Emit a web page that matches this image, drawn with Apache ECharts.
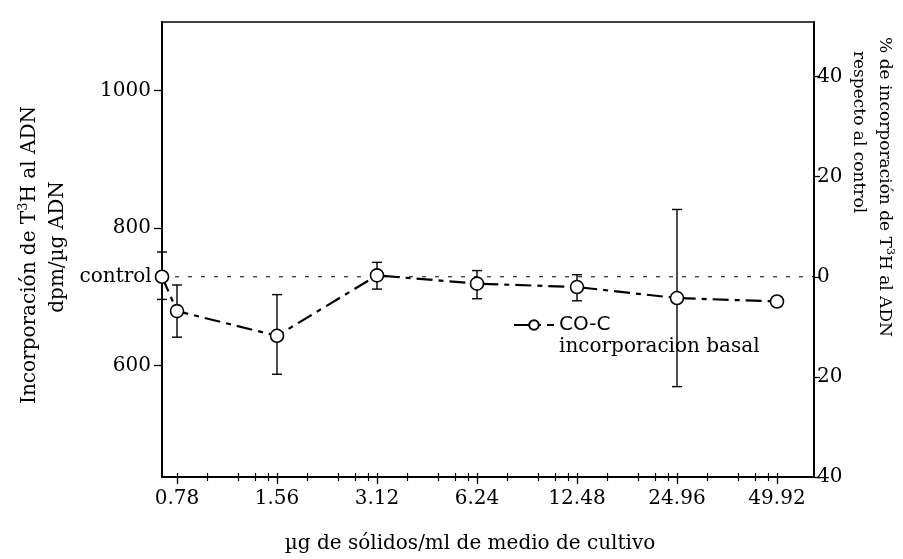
<!DOCTYPE html>
<html>
<head>
<meta charset="utf-8">
<script src="https://cdn.jsdelivr.net/npm/echarts@6/dist/echarts.min.js"></script>
<style>html,body{margin:0;padding:0;background:#fff}#c{width:903px;height:559px}</style>
</head>
<body>
<div id="c"></div>
<script>
// ---- data ----
const xLabels = ['0.78', '1.56', '3.12', '6.24', '12.48', '24.96', '49.92'];
const means   = [679, 643, 731, 719, 714, 698, 693];
const errLow  = [641, 587, 711, 697, 694, 569, 688];
const errHigh = [717, 703, 750, 738, 732, 827, 698];
const controlValue = 729;
const controlLow = 696;
const controlHigh = 765;
const leftTicks = [600, 800, 1000];
const rightTicks = [-40, -20, 0, 20, 40];
const minorFractions = [0.3, 0.61, 0.78, 0.91];

// ---- axis extents ----
const xMin = -0.15, xMax = 6.37;
const rMin = -40;
const yMin = controlValue * (1 + rMin / 100);
const yMax = 1100;
const rMax = (yMax - controlValue) / controlValue * 100;

const majorIdx = xLabels.map((_, i) => i);
const minorIdx = [];
for (let i = 0; i < xLabels.length - 1; i++) minorFractions.forEach(f => minorIdx.push(i + f));

const FONT = 'DejaVu Serif';

const lineData = [{value: [xMin, controlValue], label: {show: true, position: 'left', distance: 3, formatter: 'control', fontFamily: FONT, fontSize: 20, color: '#000'}}]
  .concat(means.map((m, i) => [i, m]));
const errData = [[xMin, controlLow, controlHigh]].concat(means.map((m, i) => [i, errLow[i], errHigh[i]]));

const chart = echarts.init(document.getElementById('c'), null, {renderer: 'canvas'});
const tickAxisBase = {
  type: 'value', min: xMin, max: xMax, position: 'bottom', gridIndex: 0,
  axisLine: {show: false, onZero: false}, axisLabel: {show: false}, splitLine: {show: false}
};
chart.setOption({
  animation: false,
  backgroundColor: '#fff',
  grid: {left: 162, top: 22, width: 652, height: 455, show: true, borderColor: '#000', borderWidth: 1.6, backgroundColor: 'transparent'},
  xAxis: [
    {
      type: 'value', min: xMin, max: xMax, position: 'bottom',
      axisLine: {show: true, onZero: false, lineStyle: {color: '#000', width: 1.8}},
      axisTick: {show: true, customValues: majorIdx, length: 7, lineStyle: {color: '#000', width: 1.3}},
      axisLabel: {customValues: majorIdx, formatter: v => xLabels[Math.round(v)], fontFamily: FONT, fontSize: 20, color: '#000', margin: 12},
      splitLine: {show: false}
    },
    Object.assign({}, tickAxisBase, {axisTick: {show: true, inside: true, customValues: majorIdx.concat(minorIdx), length: 4, lineStyle: {color: '#000', width: 1.2}}}),
    Object.assign({}, tickAxisBase, {axisTick: {show: true, customValues: minorIdx, length: 4, lineStyle: {color: '#000', width: 1.2}}})
  ],
  yAxis: [
    {
      type: 'value', min: yMin, max: yMax, position: 'left',
      axisLine: {show: true, onZero: false, lineStyle: {color: '#000', width: 1.8}},
      axisTick: {show: true, customValues: leftTicks, length: 8, lineStyle: {color: '#000', width: 1.3}},
      axisLabel: {customValues: leftTicks, formatter: v => String(Math.round(v)), fontFamily: FONT, fontSize: 20, color: '#000', margin: 11},
      splitLine: {show: false}
    },
    {
      type: 'value', min: rMin, max: rMax, position: 'right',
      axisLine: {show: true, onZero: false, lineStyle: {color: '#000', width: 1.8}},
      axisTick: {show: true, customValues: rightTicks, length: 6, lineStyle: {color: '#000', width: 1.3}},
      axisLabel: {customValues: rightTicks, formatter: v => String(Math.abs(Math.round(v))), fontFamily: FONT, fontSize: 20, color: '#000', margin: 3},
      splitLine: {show: false}
    }
  ],
  legend: {
    left: 508, top: 310, itemWidth: 40, itemHeight: 12, itemGap: 6,
    data: ['CO-C'],
    textStyle: {fontFamily: 'DejaVu Sans', fontSize: 20, color: '#000'}
  },
  series: [
    {
      name: 'control line', type: 'line', xAxisIndex: 0, yAxisIndex: 0,
      data: [[xMin, controlValue], [xMax, controlValue]],
      symbol: 'none', silent: true,
      lineStyle: {color: '#000', width: 1, type: [4, 9]}
    },
    {
      name: 'errors', type: 'custom', xAxisIndex: 0, yAxisIndex: 0,
      data: errData,
      renderItem: function (params, api) {
        const x = api.value(0);
        const lo = api.coord([x, api.value(1)]);
        const hi = api.coord([x, api.value(2)]);
        const w = 5;
        const st = {stroke: '#000', lineWidth: 1.4};
        return {type: 'group', children: [
          {type: 'line', shape: {x1: lo[0], y1: lo[1], x2: hi[0], y2: hi[1]}, style: st},
          {type: 'line', shape: {x1: lo[0] - w, y1: lo[1], x2: lo[0] + w, y2: lo[1]}, style: st},
          {type: 'line', shape: {x1: hi[0] - w, y1: hi[1], x2: hi[0] + w, y2: hi[1]}, style: st}
        ]};
      },
      z: 2
    },
    {
      name: 'CO-C', type: 'line', xAxisIndex: 0, yAxisIndex: 0,
      data: lineData,
      symbol: 'circle', symbolSize: 13,
      itemStyle: {color: '#fff', borderColor: '#000', borderWidth: 1.6},
      lineStyle: {color: '#000', width: 2.2, type: [16, 6, 5, 6]},
      z: 3
    }
  ],
  graphic: [
    {type: 'text', left: 559, top: 337, style: {text: 'incorporacion basal', fontFamily: FONT, fontSize: 20, fill: '#000'}},
    {type: 'text', x: 470, y: 544, style: {text: 'µg de sólidos/ml de medio de cultivo', fontFamily: FONT, fontSize: 20, fill: '#000', align: 'center', verticalAlign: 'middle'}},
    {type: 'text', x: 30, y: 255, rotation: Math.PI / 2, style: {
      text: '{a|Incorporación de T}{s|3}{a|H al ADN}', align: 'center', verticalAlign: 'middle',
      rich: {a: {fontFamily: FONT, fontSize: 20, fill: '#000'}, s: {fontFamily: FONT, fontSize: 13, fill: '#000', padding: [0, 0, 13, 0]}}
    }},
    {type: 'text', x: 58, y: 247, rotation: Math.PI / 2, style: {text: 'dpm/µg ADN', fontFamily: FONT, fontSize: 20, fill: '#000', align: 'center', verticalAlign: 'middle'}},
    {type: 'text', x: 884, y: 187, rotation: -Math.PI / 2, style: {
      text: '{a|% de incorporación de T}{s|3}{a|H al ADN}', align: 'center', verticalAlign: 'middle',
      rich: {a: {fontFamily: FONT, fontSize: 17, fill: '#000'}, s: {fontFamily: FONT, fontSize: 11, fill: '#000', padding: [0, 0, 12, 0]}}
    }},
    {type: 'text', x: 858, y: 132, rotation: -Math.PI / 2, style: {text: 'respecto al control', fontFamily: FONT, fontSize: 17, fill: '#000', align: 'center', verticalAlign: 'middle'}}
  ]
});
</script>
</body>
</html>
